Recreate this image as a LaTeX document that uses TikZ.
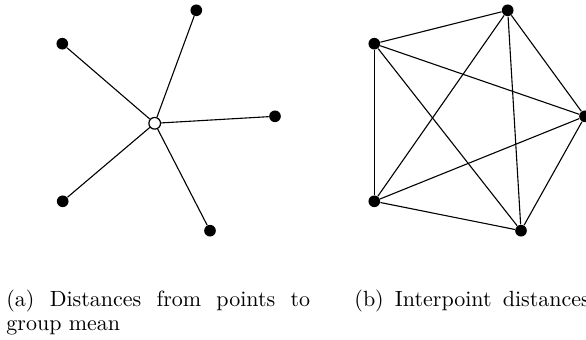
\documentclass[tikz,border=0pt]{standalone}
\begin{document}
\begin{tikzpicture}[x=0.4545pt,y=-0.4545pt,
  dot/.style={circle,fill=black,inner sep=0pt,minimum size=5.3pt},
  mean/.style={circle,draw=black,fill=white,line width=0.55pt,inner sep=0pt,minimum size=5.3pt},
  edge/.style={line width=0.5pt},
  captext/.style={inner sep=0pt,anchor=base west}]
\useasboundingbox (0,0) rectangle (586,340);
% left: points to group mean
\node[mean] (m) at (154.7,123.3) {};
\node[dot] (a1) at (62.3,43.7) {};
\node[dot] (a2) at (196.3,10.3) {};
\node[dot] (a3) at (275,116.3) {};
\node[dot] (a4) at (210,230.7) {};
\node[dot] (a5) at (62.7,201.3) {};
\foreach \p in {a1,a2,a3,a4,a5} \draw[edge] (m) -- (\p);
% right: interpoint distances
\node[dot] (b1) at (374.3,43.7) {};
\node[dot] (b2) at (507.7,10.3) {};
\node[dot] (b3) at (585,116.3) {};
\node[dot] (b4) at (521,230.7) {};
\node[dot] (b5) at (374.3,201.3) {};
\foreach \p/\q in {b1/b2,b1/b3,b1/b4,b1/b5,b2/b3,b2/b4,b2/b5,b3/b4,b3/b5,b4/b5}
  \draw[edge] (\p) -- (\q);
% captions
\node[captext] (c1) at (6,306) {\makebox[138pt][s]{(a) Distances from points to}};
\node[captext] (c2) at (6,330) {group mean};
\node[captext] (c3) at (354,306) {\makebox[107pt][s]{(b) Interpoint distances}};
\end{tikzpicture}
\end{document}
